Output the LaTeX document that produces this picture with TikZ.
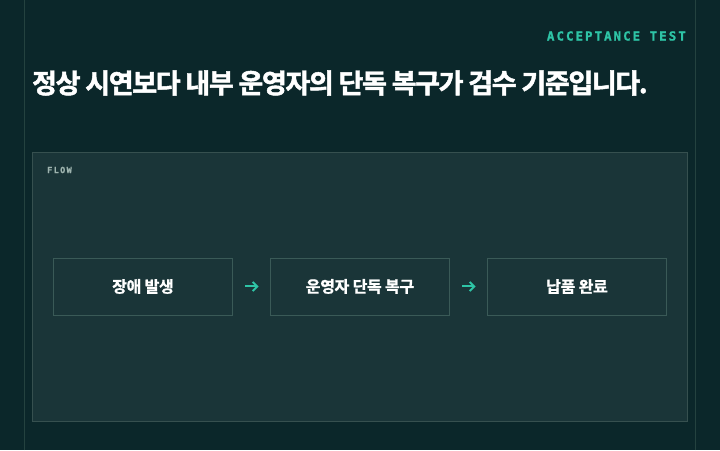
\documentclass[tikz,border=0pt]{standalone}
\usepackage{fontspec}
\setmainfont{Noto Sans CJK KR}
\newfontfamily\krb{Noto Sans CJK KR}[UprightFont={* Bold}, LetterSpace=-2, FakeBold=1.2]
\newfontfamily\titlefont{Noto Sans CJK KR}[UprightFont={* Bold}, LetterSpace=-5, FakeBold=1.8]
\newfontfamily\monob{DejaVu Sans Mono}[UprightFont={* Bold}, LetterSpace=16, FakeBold=1.2]
\usetikzlibrary{arrows.meta}
\definecolor{bg}{HTML}{0B272A}
\definecolor{panel}{HTML}{1A3538}
\definecolor{panelline}{HTML}{36504F}
\definecolor{boxline}{HTML}{3A5A57}
\definecolor{rule}{HTML}{24423F}
\definecolor{teal}{HTML}{2EC4A6}
\definecolor{muted}{HTML}{9DB3AE}
\tikzset{
  x=1pt,y=1pt,
  stepbox/.style={draw=boxline, line width=0.8pt, minimum width=179pt, minimum height=57pt, inner sep=0pt,
    text=white, font=\krb\fontsize{16}{18}\selectfont},
  flowarrow/.style={draw=teal, line width=2pt, -{Straight Barb[length=4.5pt,width=9pt,line width=2pt]},
    shorten <=12.5pt, shorten >=11.5pt},
}
\begin{document}
\begin{tikzpicture}
\fill[bg] (0,0) rectangle (720,450);
\useasboundingbox (0,0) rectangle (720,450);
\draw[rule, line width=0.8pt] (24.5,0) -- (24.5,450);
\draw[rule, line width=0.8pt] (695.5,0) -- (695.5,450);
\node[anchor=east, inner sep=0pt, text=teal, font=\monob\fontsize{12.5}{14}\selectfont] (tag) at (686,414) {ACCEPTANCE TEST};
\node[anchor=west, inner sep=0pt, text=white, font=\titlefont\fontsize{27}{32}\selectfont] (title) at (32,367) {정상 시연보다 내부 운영자의 단독 복구가 검수 기준입니다.};
\draw[panelline, fill=panel, line width=0.8pt] (32.5,28.5) rectangle (687.5,297.5);
\node[anchor=west, inner sep=0pt, text=muted, font=\monob\fontsize{8.5}{10}\selectfont] (flow) at (47,280) {FLOW};
\node[stepbox] (b1) at (143,163.5) {장애 발생};
\node[stepbox] (b2) at (360,163.5) {운영자 단독 복구};
\node[stepbox] (b3) at (577,163.5) {납품 완료};
\draw[flowarrow] (b1.east) -- (b2.west);
\draw[flowarrow] (b2.east) -- (b3.west);
\end{tikzpicture}
\end{document}
